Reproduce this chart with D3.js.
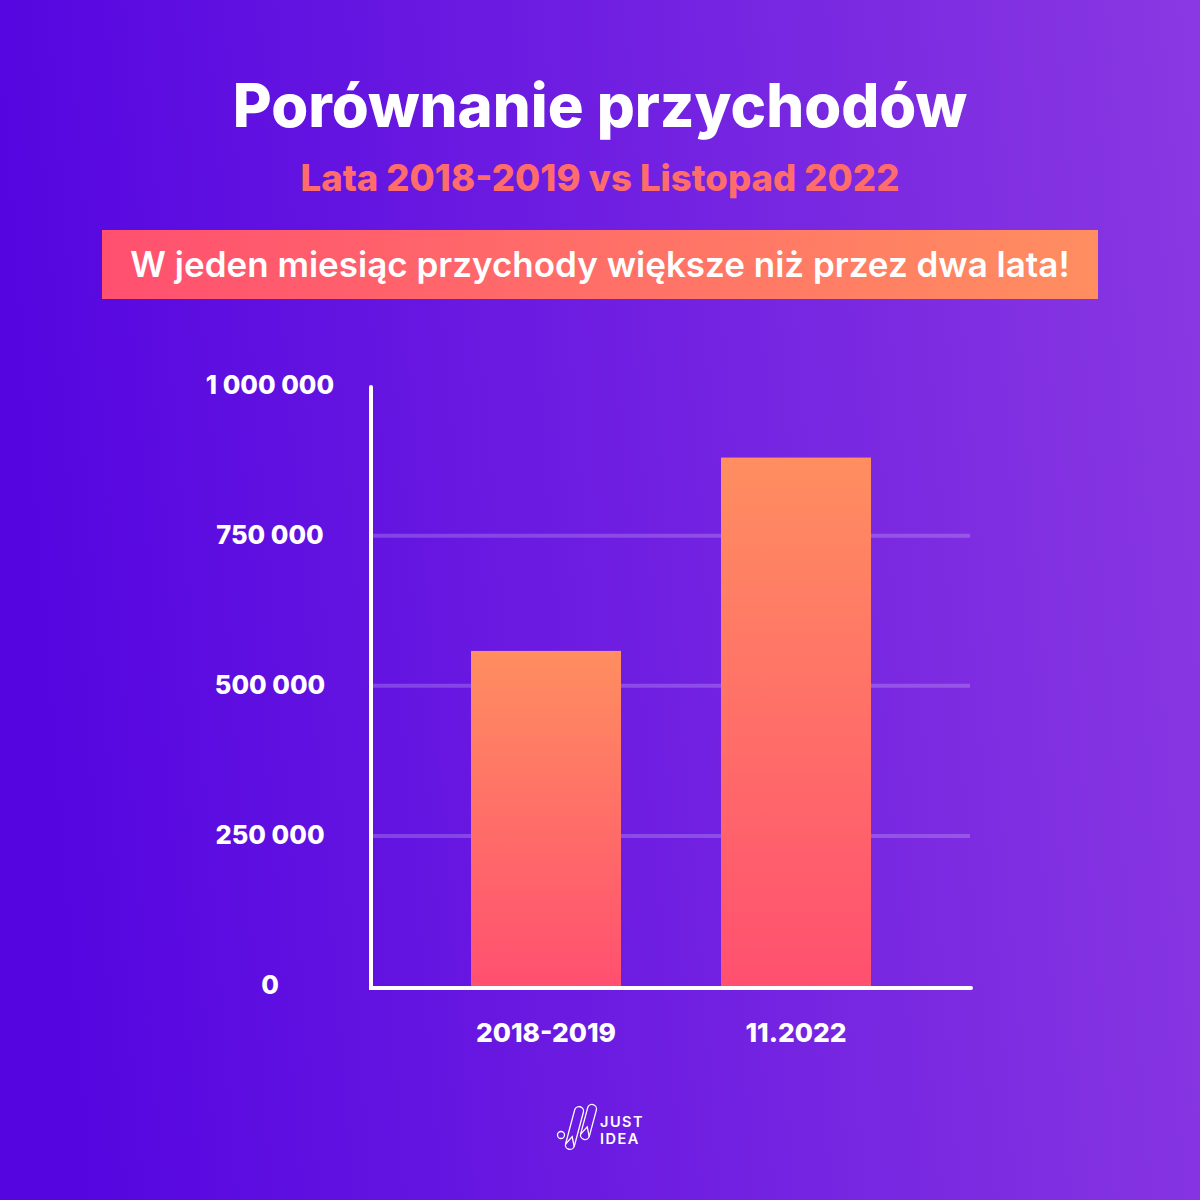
<!DOCTYPE html>
<html><head><meta charset="utf-8">
<script src="https://cdn.jsdelivr.net/npm/d3@7"></script>
<style>html,body{margin:0;padding:0;width:1200px;height:1200px;overflow:hidden}svg{display:block}text{font-family:Inter,sans-serif}</style>
</head><body><svg id="c" width="1200" height="1200" viewBox="0 0 1200 1200"></svg>
<script>
const categories = ["2018-2019", "11.2022"];
const revenues = [558000, 880000];
const yTicks = [0, 250000, 500000, 750000, 1000000];
const yTickLabels = ["0", "250 000", "500 000", "750 000", "1 000 000"];
const titleText = "Porównanie przychodów";
const subtitleText = "Lata 2018-2019 vs Listopad 2022";
const bannerText = "W jeden miesiąc przychody większe niż przez dwa lata!";

const svg = d3.select("#c");
const defs = svg.append("defs");
function grad(id, x1, y1, x2, y2, stops) {
  const g = defs.append("linearGradient").attr("id", id).attr("x1", x1).attr("y1", y1).attr("x2", x2).attr("y2", y2);
  stops.forEach(s => g.append("stop").attr("offset", s[0]).attr("stop-color", s[1]));
}
grad("bg", 0, 0.08, 1, 0, [[0, "#5506e0"], [1, "#8a38e2"]]);
grad("banner", 0, 0, 1, 0, [[0, "#ff5070"], [1, "#ff8e60"]]);
grad("bar", 0, 1, 0, 0, [[0, "#ff5070"], [1, "#ff8e60"]]);

svg.append("rect").attr("width", 1200).attr("height", 1200).attr("fill", "url(#bg)");

svg.append("text").attr("x", 600).attr("y", 127).attr("text-anchor", "middle")
  .attr("font-size", 59.8).attr("font-weight", 800).attr("fill", "#fff").text(titleText);
svg.append("text").attr("x", 600).attr("y", 191).attr("text-anchor", "middle")
  .attr("font-size", 36.5).attr("font-weight", 800).attr("fill", "#ff6c6c").text(subtitleText);
svg.append("rect").attr("x", 102).attr("y", 230).attr("width", 996).attr("height", 69).attr("fill", "url(#banner)");
svg.append("text").attr("x", 600).attr("y", 277).attr("text-anchor", "middle")
  .attr("font-size", 35).attr("font-weight", 600).attr("fill", "#fff").text(bannerText);

const y = d3.scaleLinear().domain([0, 1000000]).range([986, 385.5]);
const x = d3.scaleBand().domain(categories).range([421, 921]).paddingInner(0.4).paddingOuter(0.2);

// gridlines
svg.append("g").selectAll("line").data(yTicks.slice(1, 4)).join("line")
  .attr("x1", 372).attr("x2", 970).attr("y1", d => y(d)).attr("y2", d => y(d))
  .attr("stroke", "#ffffff").attr("stroke-opacity", 0.2).attr("stroke-width", 4);

// bars
svg.append("g").selectAll("rect").data(categories).join("rect")
  .attr("x", d => x(d)).attr("width", x.bandwidth())
  .attr("y", (d, i) => y(revenues[i])).attr("height", (d, i) => y(0) - y(revenues[i]))
  .attr("fill", "url(#bar)");

// axes
const yAxis = d3.axisLeft(y).tickValues(yTicks).tickSize(0).tickPadding(0).tickFormat((d, i) => yTickLabels[i]);
const gy = svg.append("g").attr("transform", "translate(270,0)").call(yAxis);
gy.select(".domain").remove();
gy.selectAll("text").attr("x", 0).attr("text-anchor", "middle").attr("dy", 0).attr("y", -2)
  .attr("dominant-baseline", "central").style("font-family", "Inter, sans-serif")
  .attr("font-size", 25.5).attr("font-weight", 800).attr("fill", "#fff");

svg.append("g").selectAll("text").data(categories).join("text")
  .attr("x", d => x(d) + x.bandwidth() / 2).attr("y", 1042).attr("text-anchor", "middle")
  .attr("font-size", 26.3).attr("font-weight", 800).attr("fill", "#fff").text(d => d);

svg.append("path").attr("d", "M371 387V988H971").attr("fill", "none").attr("stroke", "#fff")
  .attr("stroke-width", 4).attr("stroke-linecap", "round");

// logo
const logo = svg.append("g").attr("fill", "none").attr("stroke", "#fff").attr("stroke-width", 1.3);
logo.append("circle").attr("cx", 561).attr("cy", 1135).attr("r", 3.5);
const capsule = (cx, cy, len) => {
  const g = logo.append("g").attr("transform", `translate(${cx},${cy}) rotate(15)`);
  g.append("rect").attr("x", -4.5).attr("y", -len / 2).attr("width", 9).attr("height", len).attr("rx", 4.5);
  g.append("path").attr("d", `M-4.5 ${len / 2 - 4}L0 ${len / 2 - 13}L4.5 ${len / 2 - 4}`);
};
capsule(574.5, 1128, 44);
capsule(588.5, 1122, 36);
svg.append("text").attr("x", 600).attr("y", 1127).attr("font-size", 14.5).attr("font-weight", 600)
  .attr("letter-spacing", 1.5).attr("fill", "#fff").text("JUST");
svg.append("text").attr("x", 600).attr("y", 1144).attr("font-size", 14.5).attr("font-weight", 600)
  .attr("letter-spacing", 1.5).attr("fill", "#fff").text("IDEA");
</script></body></html>
